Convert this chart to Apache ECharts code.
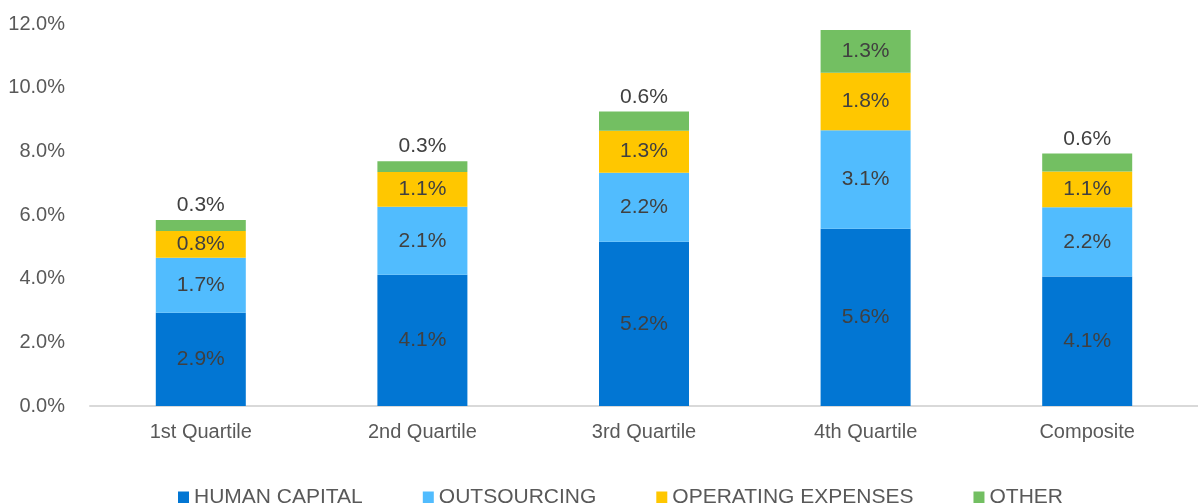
<!DOCTYPE html>
<html>
<head>
<meta charset="utf-8">
<script src="https://cdn.jsdelivr.net/npm/echarts@6/dist/echarts.min.js"></script>
<style>
  html, body { margin: 0; padding: 0; background: #fff; }
  #main { width: 1198px; height: 503px; }
</style>
</head>
<body>
<div id="main"></div>
<script>
// categories and series (percent)
var categories = ['1st Quartile', '2nd Quartile', '3rd Quartile', '4th Quartile', 'Composite'];
var humanCapital = [2.93, 4.12, 5.16, 5.57, 4.07];
var outsourcing = [1.73, 2.14, 2.17, 3.09, 2.17];
var operatingExpenses = [0.84, 1.09, 1.32, 1.81, 1.13];
var other = [0.34, 0.34, 0.6, 1.34, 0.56];
var yTicks = [0, 2, 4, 6, 8, 10, 12];

var font = 'Liberation Sans, Arial, sans-serif';

function pct(p) { return p.value.toFixed(1) + '%'; }

var myChart = echarts.init(document.getElementById('main'));

function barSeries(name, data, color) {
    return {
        name: name,
        type: 'bar',
        stack: 'total',
        barWidth: 90,
        data: data,
        itemStyle: { color: color },
        label: {
            show: true,
            position: 'inside',
            formatter: pct,
            color: '#404040',
            fontSize: 21,
            fontFamily: font
        }
    };
}

var otherSeries = barSeries('OTHER', other.map(function(v, i) {
    // small segments carry their label above the bar
    if (i === 3) return v;
    return { value: v, label: { position: 'top', distance: 4 } };
}), '#73BF62');

var option = {
    animation: false,
    grid: { left: 90, top: 24, width: 1117, height: 382 },
    legend: {
        left: 173,
        top: 482,
        icon: 'rect',
        itemWidth: 11,
        itemHeight: 12,
        itemGap: 60,
        textStyle: { color: '#595959', fontSize: 21, fontFamily: font },
        data: ['HUMAN CAPITAL', 'OUTSOURCING', 'OPERATING EXPENSES', 'OTHER']
    },
    xAxis: {
        type: 'category',
        data: categories,
        axisLine: { lineStyle: { color: '#D9D9D9', width: 2 } },
        axisTick: { show: false },
        axisLabel: { color: '#595959', fontSize: 20, fontFamily: font, margin: 16 }
    },
    yAxis: {
        type: 'value',
        min: yTicks[0],
        max: yTicks[yTicks.length - 1],
        interval: yTicks[1] - yTicks[0],
        splitLine: { show: false },
        axisLine: { show: false },
        axisTick: { show: false },
        axisLabel: {
            color: '#595959', fontSize: 20, fontFamily: font, margin: 25,
            formatter: function(v) { return v.toFixed(1) + '%'; }
        }
    },
    series: [
        barSeries('HUMAN CAPITAL', humanCapital, '#0276D3'),
        barSeries('OUTSOURCING', outsourcing, '#51BCFE'),
        barSeries('OPERATING EXPENSES', operatingExpenses, '#FFC700'),
        otherSeries
    ]
};

myChart.setOption(option);
</script>
</body>
</html>
